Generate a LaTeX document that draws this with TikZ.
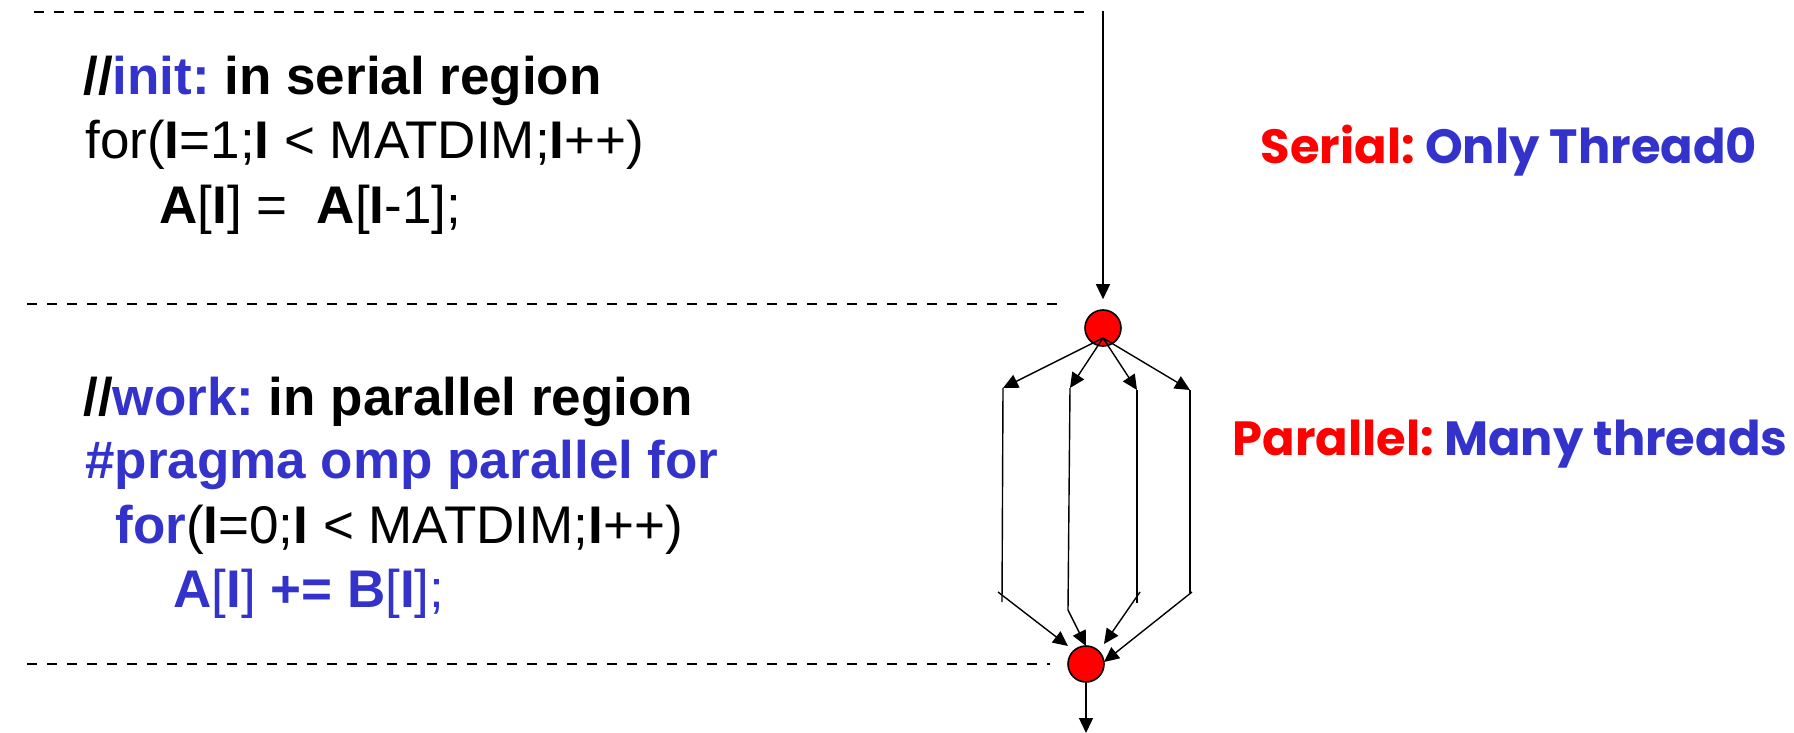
\documentclass[tikz,border=0pt]{standalone}
\usepackage{fontspec}
\setmainfont{Liberation Sans}
\newfontfamily\comicfont{Poppins}
\usetikzlibrary{arrows.meta}
\definecolor{cblue}{RGB}{51,51,204}
\definecolor{cred}{RGB}{255,0,0}
\newcommand{\Ib}{\textbf{I}}
\frenchspacing
\begin{document}
\begin{tikzpicture}[x=0.5pt,y=-0.5pt,
  sep/.style={dashed, dash pattern=on 5pt off 5pt, line width=0.9pt},
  flow/.style={line width=0.7pt, -{Triangle[length=7.5pt,width=7pt]}},
  thread/.style={line width=0.7pt},
  sync/.style={circle, draw=black, fill=cred, line width=0.8pt, minimum size=18pt, inner sep=0pt},
  code/.style={anchor=base west, inner sep=0pt, font=\fontsize{26.5}{32}\selectfont},
  tag/.style={anchor=base, inner sep=0pt, font=\comicfont\bfseries\fontsize{24}{28}\selectfont}]
\useasboundingbox (0,0) rectangle (1794,733);

% region separators
\draw[sep] (34,12) -- (1087,12);
\draw[sep] (27,304) -- (1064,304);
\draw[sep] (27,664) -- (1050,664);

% serial code
\node[code] (s1) at (83,95) {\textbf{//\textcolor{cblue}{init:} in serial region}};
\node[code] (s2) at (85,158) {for(\Ib=1;\Ib{} < MATDIM;\Ib++)};
\node[code] (s3) at (159,223) {\textbf{A}[\Ib] =\ \ \textbf{A}[\Ib-1];};

% parallel code
\node[code] (p1) at (83,415) {\textbf{//\textcolor{cblue}{work:} in parallel region}};
\node[code] (p2) at (85,478) {\textcolor{cblue}{\textbf{\#pragma omp parallel for}}};
\node[code] (p3) at (115,543) {\textcolor{cblue}{\textbf{for}}(\Ib=0;\Ib{} < MATDIM;\Ib++)};
\node[code] (p4) at (173,607) {\color{cblue}\textbf{A}[\Ib] \textbf{+=} \textbf{B}[\Ib];};

% labels
\node[tag] (l1) at (1509,163) {\textcolor{cred}{Serial:} \textcolor{cblue}{Only Thread0}};
\node[tag] (l2) at (1510,455) {\textcolor{cred}{Parallel:} \textcolor{cblue}{Many threads}};

% fork / join
\node[sync] (fork) at (1103,328) {};
\node[sync] (join) at (1086,664) {};
\coordinate (src) at (1103,11);
\coordinate (fo) at (1103,338);
\coordinate (sink) at (1086,733);

\coordinate (a1) at (1003,388); \coordinate (b1) at (1002,602);
\coordinate (a2) at (1070,388); \coordinate (b2) at (1068,610);
\coordinate (a3) at (1137,390); \coordinate (b3) at (1137,603);
\coordinate (a4) at (1190,390); \coordinate (b4) at (1190,593);
\coordinate (c1) at (998,592);  \coordinate (d1) at (1068,646);
\coordinate (c2) at (1068,610); \coordinate (d2) at (1086,646);
\coordinate (c3) at (1140,592); \coordinate (d3) at (1104,644);
\coordinate (c4) at (1192,592); \coordinate (d4) at (1104,662);

\draw[flow, shorten >=5pt] (src) -- (fork.north);
\foreach \i in {1,...,4} {
  \draw[flow] (fo) -- (a\i);
  \draw[thread] (a\i) -- (b\i);
  \draw[flow] (c\i) -- (d\i);
}
\draw[flow] (join.south) -- (sink);
\end{tikzpicture}
\end{document}
